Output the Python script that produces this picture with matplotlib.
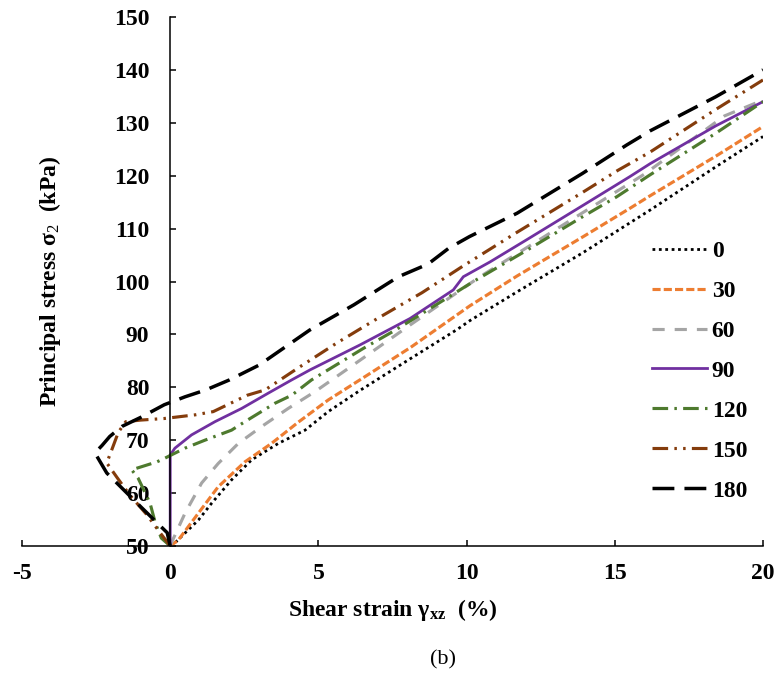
import matplotlib
matplotlib.use("Agg")
import matplotlib.pyplot as plt

plt.rcParams['font.family'] = ['Liberation Serif', 'DejaVu Serif']
plt.rcParams['mathtext.fontset'] = 'custom'
plt.rcParams['mathtext.rm'] = 'Liberation Serif'
plt.rcParams['mathtext.it'] = 'Liberation Serif:italic'
plt.rcParams['mathtext.bf'] = 'Liberation Serif:bold'
plt.rcParams['axes.unicode_minus'] = False

# ---- data ----
labels = ['0', '30', '60', '90', '120', '150', '180']

x0 = [0, 0.16, 0.95, 1.4, 2.07, 2.75, 3.65, 4.55, 5.33, 6.4, 8.1, 9.7, 10.11, 11.69, 13.94, 15.4, 16.19, 18.44, 20]
y0 = [50, 50.6, 54.9, 58.1, 62.5, 66.3, 69.4, 71.9, 75.4, 79.4, 85.4, 91.0, 92.6, 98.0, 105.5, 110.7, 113.5, 121.8, 127.4]

x30 = [0, 0.27, 0.95, 1.62, 2.52, 3.42, 4.32, 5.33, 6.4, 8.1, 10.11, 11.69, 13.94, 15.5, 16.19, 18.44, 20]
y30 = [50, 51.1, 56.2, 61.2, 65.9, 69.4, 73.4, 77.6, 81.4, 87.5, 95.4, 101.0, 108.5, 113.8, 116.2, 123.8, 129.3]

x60 = [0, 0.05, 0.5, 1.06, 1.62, 2.3, 3.09, 3.98, 4.89, 6.4, 8.1, 10.45, 12.0, 14.0, 16.0, 18.7, 20]
y60 = [50, 50.7, 56.2, 61.9, 65.6, 69.4, 72.6, 76.0, 79.2, 85.1, 91.8, 100.9, 106.3, 113.3, 120.3, 131.3, 134.3]

x90 = [0, 0, 0.16, 0.72, 1.51, 2.41, 3.31, 4.1, 4.72, 6.4, 8.09, 9.55, 9.89, 10.79, 12.0, 13.9, 15.5, 16.2, 18.4, 20]
y90 = [50, 67.2, 68.5, 71.0, 73.5, 76.0, 78.9, 81.4, 83.3, 88.0, 93.0, 98.4, 100.9, 103.7, 107.8, 114.3, 119.8, 122.3, 129.4, 134.0]

x120 = [0, -0.3, -0.5, -0.68, -1.08, -1.3, -0.79, -0.45, -0.18, 0.5, 1.17, 2.07, 2.52, 3.54, 4.1, 4.77, 6.5, 7.5, 8.2, 10.23, 12.0, 13.9, 15.06, 16.2, 18.4, 20]
y120 = [50, 51.5, 54.3, 58.1, 62.8, 64.4, 65.3, 65.9, 66.6, 68.5, 70.0, 71.9, 73.5, 77.0, 78.5, 81.4, 87.3, 90.5, 92.9, 100.0, 105.8, 112.2, 116.0, 120.2, 128.0, 134.0]

x150 = [0, -0.34, -0.8, -1.36, -1.8, -2.14, -1.95, -1.75, -1.5, -1.0, -0.2, 0.85, 1.45, 2.6, 3.2, 4.3, 5.6, 6.9, 8.5, 9.9, 11.7, 13.9, 15.1, 16.2, 18.4, 20]
y150 = [50, 52.5, 56.0, 59.6, 63.0, 65.7, 68.5, 71.5, 73.5, 73.8, 74.1, 74.8, 75.4, 78.5, 79.5, 83.6, 88.3, 92.7, 97.9, 103.0, 109.3, 116.8, 121.0, 124.5, 132.5, 138.1]

x180 = [0, -0.1, -1.1, -2.14, -2.54, -2.3, -2.04, -1.63, -1.0, -0.2, 0.5, 1.2, 2.0, 3.0, 4.7, 6.2, 7.7, 8.7, 9.4, 10.1, 11.7, 13.9, 15.4, 16.2, 18.4, 20.0]
y180 = [50, 52.5, 58.0, 63.8, 67.6, 69.0, 70.7, 72.6, 74.3, 76.7, 78.2, 79.5, 81.4, 84.2, 90.8, 95.6, 100.9, 103.3, 106.3, 108.5, 112.9, 120.4, 125.8, 128.5, 134.9, 140.0]

xs = [x0, x30, x60, x90, x120, x150, x180]
ys = [y0, y30, y60, y90, y120, y150, y180]

colors = ['#000000', '#ED7D31', '#A5A5A5', '#7030A0', '#4E7A2E', '#843C0C', '#000000']
lws = [2.0, 2.25, 2.25, 2.0, 2.25, 2.25, 2.5]
dashes = [(0, (1, 1.3)), (0, (2.6, 1.0)), (0, (3.9, 3.2)), '-',
          (0, (5, 2, 0.8, 2)), (0, (5, 2, 0.8, 2, 0.8, 2)), (0, (6.3, 2.9))]

FS = 17

fig = plt.figure(figsize=(7.78, 6.8), dpi=100)
ax = fig.add_axes([22/778, 1-546/680, (763-22)/778, (546-17)/680])

for x, y, c, lw, ls, lab in zip(xs, ys, colors, lws, dashes, labels):
    ax.plot(x, y, color=c, lw=lw, linestyle=ls, label=lab,
            dash_capstyle='butt', solid_joinstyle='miter')

ax.set_xlim(-5, 20)
ax.set_ylim(50, 150)
ax.set_xticks([-5, 0, 5, 10, 15, 20])
ax.set_yticks(range(50, 151, 10))

ax.spines['top'].set_visible(False)
ax.spines['right'].set_visible(False)
ax.spines['left'].set_position(('data', 0))
for s in ('left', 'bottom'):
    ax.spines[s].set_linewidth(1.1)

ax.tick_params(axis='both', direction='in', length=4, width=1.1, labelsize=FS)
ax.tick_params(axis='y', pad=15)
ax.tick_params(axis='x', pad=12)
for t in ax.get_xticklabels() + ax.get_yticklabels():
    t.set_fontweight('bold')

ax.set_xlabel('Shear strain γ$_{\\mathbf{xz}}$  (%)', fontsize=FS, fontweight='bold', va='center')
ax.xaxis.set_label_coords(0.5, (546-610)/529)
ax.set_ylabel('Principal stress σ$_{\\mathrm{2}}$  (kPa)', fontsize=FS, fontweight='bold', va='center')
ax.yaxis.set_label_coords((50-22)/741, 0.5)

leg = fig.legend(loc='center left', bbox_to_anchor=(651.7/778, 1-371/680),
                 frameon=False, handlelength=2.33, handletextpad=0.21,
                 labelspacing=0.78, borderpad=0, borderaxespad=0,
                 prop={'weight': 'bold', 'size': FS})

fig.text(443/778, 1-660/680, '(b)', ha='center', va='center', fontsize=16)

fig.savefig('out.png', dpi=100)
